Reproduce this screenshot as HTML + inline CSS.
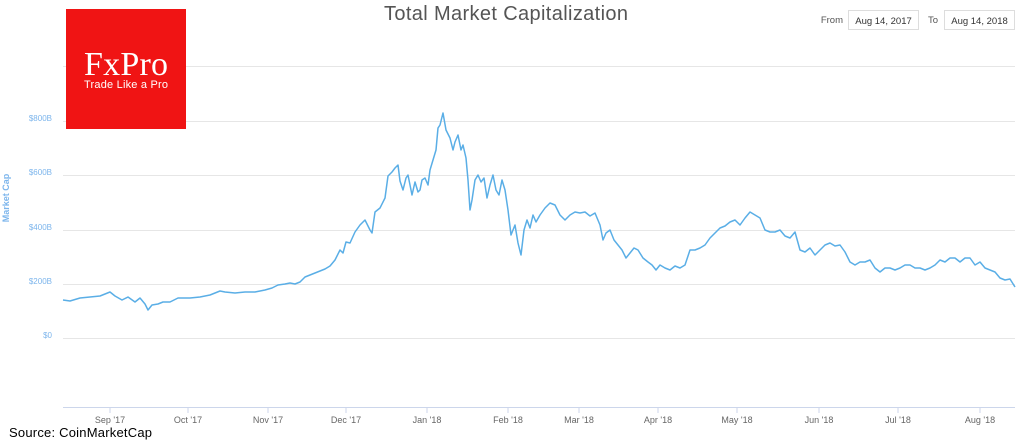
<!DOCTYPE html>
<html><head><style>
body{margin:0;background:#fff;width:1020px;height:444px;overflow:hidden;font-family:"Liberation Sans",sans-serif;}
</style></head><body>
<svg width="1020" height="444" xmlns="http://www.w3.org/2000/svg" style="position:absolute;left:0;top:0">
<g stroke="#e6e6e6" stroke-width="1">
<line x1="63" x2="1015" y1="66.5" y2="66.5"/>
<line x1="63" x2="1015" y1="121.5" y2="121.5"/>
<line x1="63" x2="1015" y1="175.5" y2="175.5"/>
<line x1="63" x2="1015" y1="230.5" y2="230.5"/>
<line x1="63" x2="1015" y1="284.5" y2="284.5"/>
<line x1="63" x2="1015" y1="338.5" y2="338.5"/>
</g>
<line x1="63" x2="1015" y1="407.5" y2="407.5" stroke="#ccd6eb"/>
<g stroke="#ccd6eb">
<line x1="110" x2="110" y1="407" y2="413"/><line x1="188" x2="188" y1="407" y2="413"/>
<line x1="268" x2="268" y1="407" y2="413"/><line x1="346" x2="346" y1="407" y2="413"/>
<line x1="427" x2="427" y1="407" y2="413"/><line x1="508" x2="508" y1="407" y2="413"/>
<line x1="579" x2="579" y1="407" y2="413"/><line x1="658" x2="658" y1="407" y2="413"/>
<line x1="737" x2="737" y1="407" y2="413"/><line x1="819" x2="819" y1="407" y2="413"/>
<line x1="898" x2="898" y1="407" y2="413"/><line x1="980" x2="980" y1="407" y2="413"/>
</g>
<g font-size="9" fill="#666" text-anchor="middle">
<text x="110" y="423">Sep '17</text><text x="188" y="423">Oct '17</text>
<text x="268" y="423">Nov '17</text><text x="346" y="423">Dec '17</text>
<text x="427" y="423">Jan '18</text><text x="508" y="423">Feb '18</text>
<text x="579" y="423">Mar '18</text><text x="658" y="423">Apr '18</text>
<text x="737" y="423">May '18</text><text x="819" y="423">Jun '18</text>
<text x="898" y="423">Jul '18</text><text x="980" y="423">Aug '18</text>
</g>
<g font-size="8" fill="#7cb5ec" text-anchor="end">
<text x="52" y="121">$800B</text><text x="52" y="175">$600B</text>
<text x="52" y="230">$400B</text><text x="52" y="284">$200B</text>
<text x="52" y="338">$0</text>
</g>
<text transform="translate(9,198) rotate(-90)" font-size="9" font-weight="bold" fill="#7cb5ec" text-anchor="middle">Market Cap</text>
<polyline fill="none" stroke="#5aaee6" stroke-width="1.5" stroke-linejoin="round" points="63,300 70,301 80,298 90,297 100,296 110,292 115,296 122,300 128,297 135,302 140,298 145,304 148,310 152,305 158,304 163,302 170,302 178,298 185,298 190,298 200,297 210,295 220,291 225,292 235,293 245,292 255,292 265,290 272,288 278,285 285,284 290,283 295,284 300,282 305,277 315,273 325,269 330,266 335,260 340,250 343,253 346,242 350,243 355,232 360,225 365,220 370,230 372,233 375,212 380,208 385,198 388,176 392,172 395,168 398,165 400,181 403,190 406,178 408,175 412,195 415,182 418,192 420,190 422,180 425,178 428,185 430,170 433,160 436,150 438,128 440,125 443,113 446,130 450,138 453,150 455,142 458,135 461,150 463,145 466,158 468,180 470,210 472,200 475,180 478,175 481,182 484,178 487,198 490,185 493,175 496,190 499,195 502,180 505,190 508,210 511,235 515,225 518,243 521,255 524,230 527,220 530,228 533,215 536,222 540,215 545,208 550,203 555,205 560,215 565,220 570,215 575,212 580,213 585,212 590,216 595,213 600,225 603,240 606,233 610,230 614,240 618,245 622,250 626,258 630,253 634,248 638,250 643,258 648,262 652,265 656,270 660,265 665,268 670,270 675,266 680,268 685,265 690,250 695,250 700,248 705,245 710,238 715,233 720,228 725,226 730,222 735,220 740,225 745,218 750,212 755,215 760,218 765,230 770,232 775,232 780,230 785,236 790,238 795,232 800,250 805,252 810,248 815,255 820,250 825,245 830,243 835,246 840,245 845,252 850,262 855,265 860,262 865,262 870,260 875,268 880,272 885,268 890,268 895,270 900,268 905,265 910,265 915,268 920,268 925,270 930,268 935,265 940,260 945,262 950,258 955,258 960,262 965,258 970,258 975,265 980,262 985,268 990,270 995,272 1000,278 1005,280 1010,279 1015,287"/>
<text x="506" y="20" font-size="20" fill="#555" text-anchor="middle" textLength="244">Total Market Capitalization</text>
<text x="843" y="23" font-size="9.5" fill="#555" text-anchor="end">From</text>
<rect x="848.5" y="10.5" width="70" height="19" fill="#fff" stroke="#ddd"/>
<text x="883.5" y="24" font-size="9.5" fill="#333" text-anchor="middle">Aug 14, 2017</text>
<text x="938" y="23" font-size="9.5" fill="#555" text-anchor="end">To</text>
<rect x="944.5" y="10.5" width="70" height="19" fill="#fff" stroke="#ddd"/>
<text x="979.5" y="24" font-size="9.5" fill="#333" text-anchor="middle">Aug 14, 2018</text>
<rect x="66" y="9" width="120" height="120" fill="#f01414"/>
<text x="126" y="75" font-family="Liberation Serif,serif" font-size="34" fill="#fff" text-anchor="middle" textLength="84">FxPro</text>
<text x="126" y="88" font-size="11" fill="#fff" text-anchor="middle" textLength="84">Trade Like a Pro</text>
<text x="9" y="437" font-size="13" fill="#000" textLength="143">Source: CoinMarketCap</text>
</svg>
</body></html>
